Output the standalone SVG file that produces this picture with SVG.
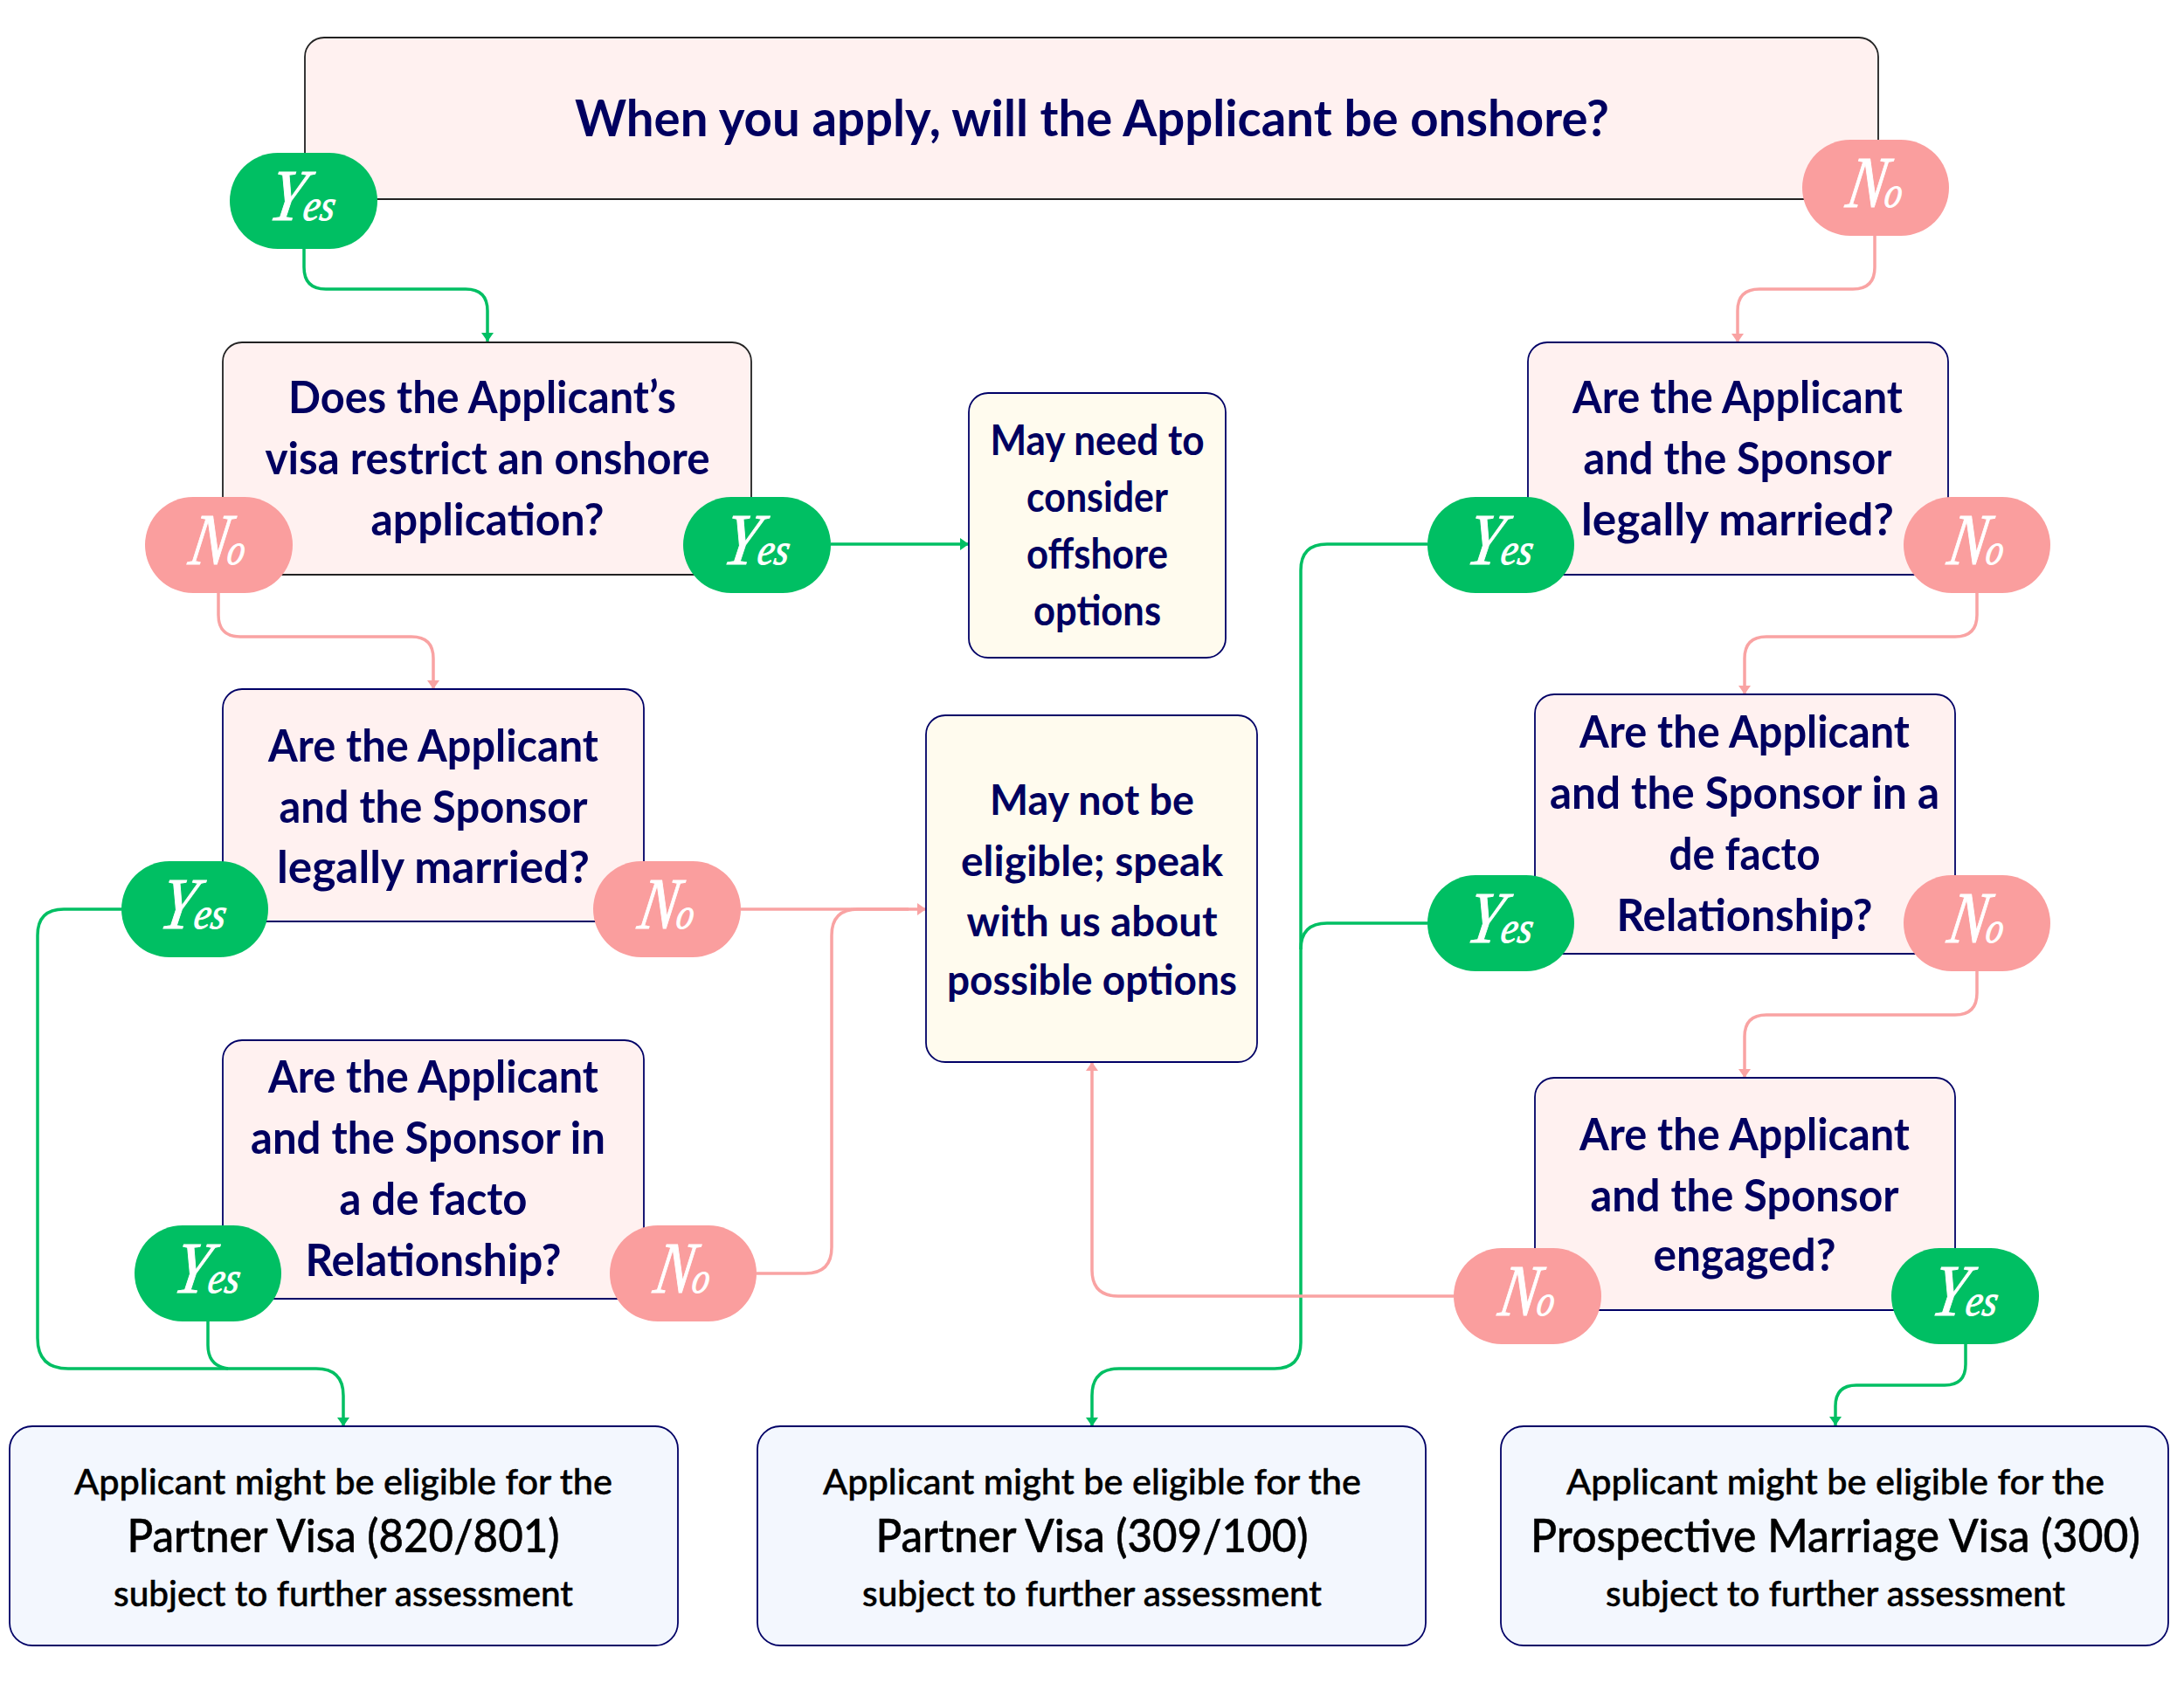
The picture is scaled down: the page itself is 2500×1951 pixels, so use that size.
<svg xmlns="http://www.w3.org/2000/svg" width="2500" height="1951" viewBox="0 0 2500 1951">
<style>
text{font-family:"Lato","Noto Sans",sans-serif;text-anchor:middle}
.q{fill:#fff1f0;stroke:#000066;stroke-width:1.8}
.k{stroke:#222}
.c{fill:#fffbee;stroke:#000066;stroke-width:1.8}
.r{fill:#f3f7fe;stroke:#000066;stroke-width:1.8}
.t{font-size:51px;font-weight:700;fill:#000060}
.t0{font-size:58px;font-weight:700;fill:#000060}
.s{font-size:48px;font-weight:700;fill:#000060}
.m{font-size:41px;font-weight:500;fill:#000;stroke:#000;stroke-width:.5}
.b{font-size:52px;font-weight:500;fill:#000;stroke:#000;stroke-width:.5}
.y{fill:#00bf63}.n{fill:#fa9e9e}
.l{font-family:"Liberation Serif",serif;font-style:italic;font-size:84px;fill:#fff;stroke:#fff;stroke-width:1}
.l tspan{font-size:50px}
.g{fill:none;stroke:#00bf63;stroke-width:3.5}
.p{fill:none;stroke:#f9a3a3;stroke-width:3.5}
</style>
<defs>
<marker id="ag" markerUnits="userSpaceOnUse" markerWidth="11" markerHeight="14" refX="10" refY="7" orient="auto"><path d="M0 0L10 7L0 14Z" fill="#00bf63"/></marker>
<marker id="ap" markerUnits="userSpaceOnUse" markerWidth="11" markerHeight="14" refX="10" refY="7" orient="auto"><path d="M0 0L10 7L0 14Z" fill="#f9a3a3"/></marker>
</defs>
<rect width="2500" height="1951" fill="#fff"/>
<g id="connectors">
<path class="g" marker-end="url(#ag)" d="M348 285V306Q348 331 373 331H533Q558 331 558 356V391"/>
<path class="p" marker-end="url(#ap)" d="M2146 270V306Q2146 331 2121 331H2014Q1989 331 1989 356V392"/>
<path class="g" marker-end="url(#ag)" d="M951 623H1109"/>
<path class="p" marker-end="url(#ap)" d="M250 679V704Q250 729 275 729H471Q496 729 496 754V789"/>
<path class="g" marker-end="url(#ag)" d="M139 1041H73Q43 1041 43 1071V1532Q43 1567 78 1567H362Q393 1567 393 1598V1633"/>
<path class="g" d="M238 1513V1540Q238 1564 261 1567"/>
<path class="p" marker-end="url(#ap)" d="M848 1041H1060"/>
<path class="p" d="M866 1458H922Q952 1458 952 1428V1071Q952 1041 982 1041H1040"/>
<path class="g" d="M1634 623H1519Q1489 623 1489 653V1537Q1489 1567 1459 1567H1281Q1250 1567 1250 1598V1633" marker-end="url(#ag)"/>
<path class="g" d="M1634 1057H1519Q1489 1057 1489 1087"/>
<path class="p" marker-end="url(#ap)" d="M2263 679V704Q2263 729 2238 729H2022Q1997 729 1997 754V795"/>
<path class="p" marker-end="url(#ap)" d="M2263 1112V1137Q2263 1162 2238 1162H2022Q1997 1162 1997 1187V1234"/>
<path class="p" marker-end="url(#ap)" d="M1664 1484H1280Q1250 1484 1250 1454V1216"/>
<path class="g" marker-end="url(#ag)" d="M2250 1539V1562Q2250 1586 2226 1586H2125Q2101 1586 2101 1610V1632"/>
</g>
<g id="q-onshore"><rect class="q k" x="349" y="43" width="1801" height="185" rx="22"/><text class="t0" x="1250" y="156" textLength="1184" lengthAdjust="spacingAndGlyphs">When you apply, will the Applicant be onshore?</text></g>
<g id="q-restrict"><rect class="q k" x="255" y="392" width="605" height="266" rx="22"/>
<text class="t" x="552" y="473" textLength="444" lengthAdjust="spacingAndGlyphs">Does the Applicant’s</text><text class="t" x="558" y="543" textLength="509" lengthAdjust="spacingAndGlyphs">visa restrict an onshore</text><text class="t" x="558" y="613" textLength="267" lengthAdjust="spacingAndGlyphs">application?</text></g>
<g id="q-married-l"><rect class="q" x="255" y="789" width="482" height="266" rx="22"/>
<text class="t" x="496" y="872" textLength="378" lengthAdjust="spacingAndGlyphs">Are the Applicant</text><text class="t" x="496" y="942" textLength="353" lengthAdjust="spacingAndGlyphs">and the Sponsor</text><text class="t" x="496" y="1011" textLength="358" lengthAdjust="spacingAndGlyphs">legally married?</text></g>
<g id="q-defacto-l"><rect class="q" x="255" y="1191" width="482" height="296" rx="22"/>
<text class="t" x="496" y="1251" textLength="378" lengthAdjust="spacingAndGlyphs">Are the Applicant</text><text class="t" x="490" y="1321" textLength="406" lengthAdjust="spacingAndGlyphs">and the Sponsor in</text><text class="t" x="496" y="1391" textLength="215" lengthAdjust="spacingAndGlyphs">a de facto</text><text class="t" x="496" y="1461" textLength="293" lengthAdjust="spacingAndGlyphs">Relationship?</text></g>
<g id="c-offshore"><rect class="c" x="1109" y="450" width="294" height="303" rx="22"/>
<text class="s" x="1256" y="521" textLength="245" lengthAdjust="spacingAndGlyphs">May need to</text><text class="s" x="1256" y="586" textLength="162" lengthAdjust="spacingAndGlyphs">consider</text><text class="s" x="1256" y="651" textLength="162" lengthAdjust="spacingAndGlyphs">offshore</text><text class="s" x="1256" y="716" textLength="146" lengthAdjust="spacingAndGlyphs">options</text></g>
<g id="c-noteligible"><rect class="c" x="1060" y="819" width="379" height="397" rx="22"/>
<text class="s" x="1250" y="933" textLength="234" lengthAdjust="spacingAndGlyphs">May not be</text><text class="s" x="1250" y="1003" textLength="300" lengthAdjust="spacingAndGlyphs">eligible; speak</text><text class="s" x="1250" y="1072" textLength="287" lengthAdjust="spacingAndGlyphs">with us about</text><text class="s" x="1250" y="1139" textLength="332" lengthAdjust="spacingAndGlyphs">possible options</text></g>
<g id="q-married-r"><rect class="q" x="1749" y="392" width="481" height="266" rx="22"/>
<text class="t" x="1989" y="473" textLength="378" lengthAdjust="spacingAndGlyphs">Are the Applicant</text><text class="t" x="1989" y="543" textLength="353" lengthAdjust="spacingAndGlyphs">and the Sponsor</text><text class="t" x="1989" y="613" textLength="358" lengthAdjust="spacingAndGlyphs">legally married?</text></g>
<g id="q-defacto-r"><rect class="q" x="1757" y="795" width="481" height="297" rx="22"/>
<text class="t" x="1997" y="856" textLength="378" lengthAdjust="spacingAndGlyphs">Are the Applicant</text><text class="t" x="1997" y="926" textLength="446" lengthAdjust="spacingAndGlyphs">and the Sponsor in a</text><text class="t" x="1997" y="996" textLength="173" lengthAdjust="spacingAndGlyphs">de facto</text><text class="t" x="1997" y="1066" textLength="293" lengthAdjust="spacingAndGlyphs">Relationship?</text></g>
<g id="q-engaged"><rect class="q" x="1757" y="1234" width="481" height="266" rx="22"/>
<text class="t" x="1997" y="1317" textLength="378" lengthAdjust="spacingAndGlyphs">Are the Applicant</text><text class="t" x="1997" y="1387" textLength="353" lengthAdjust="spacingAndGlyphs">and the Sponsor</text><text class="t" x="1997" y="1455" textLength="209" lengthAdjust="spacingAndGlyphs">engaged?</text></g>
<g id="r-820"><rect class="r" x="11" y="1633" width="765" height="251" rx="26"/>
<text class="m" x="393" y="1711" textLength="616" lengthAdjust="spacingAndGlyphs">Applicant might be eligible for the</text><text class="b" x="393" y="1777" textLength="495" lengthAdjust="spacingAndGlyphs">Partner Visa (820/801)</text><text class="m" x="393" y="1839" textLength="526" lengthAdjust="spacingAndGlyphs">subject to further assessment</text></g>
<g id="r-309"><rect class="r" x="867" y="1633" width="765" height="251" rx="26"/>
<text class="m" x="1250" y="1711" textLength="616" lengthAdjust="spacingAndGlyphs">Applicant might be eligible for the</text><text class="b" x="1250" y="1777" textLength="495" lengthAdjust="spacingAndGlyphs">Partner Visa (309/100)</text><text class="m" x="1250" y="1839" textLength="526" lengthAdjust="spacingAndGlyphs">subject to further assessment</text></g>
<g id="r-300"><rect class="r" x="1718" y="1633" width="764" height="251" rx="26"/>
<text class="m" x="2101" y="1711" textLength="616" lengthAdjust="spacingAndGlyphs">Applicant might be eligible for the</text><text class="b" x="2101" y="1777" textLength="698" lengthAdjust="spacingAndGlyphs">Prospective Marriage Visa (300)</text><text class="m" x="2101" y="1839" textLength="526" lengthAdjust="spacingAndGlyphs">subject to further assessment</text></g>
<g id="yes-1"><rect class="y" x="263" y="175" width="169" height="110" rx="55"/><text class="l" transform="translate(347 230) skewX(-10)" y="22" textLength="76" lengthAdjust="spacingAndGlyphs">Y<tspan>es</tspan></text></g>
<g id="no-1"><rect class="n" x="2063" y="160" width="168" height="110" rx="55"/><text class="l" transform="translate(2147 215) skewX(-10)" y="22" textLength="64" lengthAdjust="spacingAndGlyphs">N<tspan>o</tspan></text></g>
<g id="no-2"><rect class="n" x="166" y="569" width="169" height="110" rx="55"/><text class="l" transform="translate(250 624) skewX(-10)" y="22" textLength="64" lengthAdjust="spacingAndGlyphs">N<tspan>o</tspan></text></g>
<g id="yes-2"><rect class="y" x="782" y="569" width="169" height="110" rx="55"/><text class="l" transform="translate(867 624) skewX(-10)" y="22" textLength="76" lengthAdjust="spacingAndGlyphs">Y<tspan>es</tspan></text></g>
<g id="yes-3"><rect class="y" x="139" y="986" width="168" height="110" rx="55"/><text class="l" transform="translate(222 1041) skewX(-10)" y="22" textLength="76" lengthAdjust="spacingAndGlyphs">Y<tspan>es</tspan></text></g>
<g id="no-3"><rect class="n" x="679" y="986" width="169" height="110" rx="55"/><text class="l" transform="translate(764 1041) skewX(-10)" y="22" textLength="64" lengthAdjust="spacingAndGlyphs">N<tspan>o</tspan></text></g>
<g id="yes-4"><rect class="y" x="154" y="1403" width="168" height="110" rx="55"/><text class="l" transform="translate(238 1458) skewX(-10)" y="22" textLength="76" lengthAdjust="spacingAndGlyphs">Y<tspan>es</tspan></text></g>
<g id="no-4"><rect class="n" x="698" y="1403" width="168" height="110" rx="55"/><text class="l" transform="translate(782 1458) skewX(-10)" y="22" textLength="64" lengthAdjust="spacingAndGlyphs">N<tspan>o</tspan></text></g>
<g id="yes-5"><rect class="y" x="1634" y="569" width="168" height="110" rx="55"/><text class="l" transform="translate(1718 624) skewX(-10)" y="22" textLength="76" lengthAdjust="spacingAndGlyphs">Y<tspan>es</tspan></text></g>
<g id="no-5"><rect class="n" x="2179" y="569" width="168" height="110" rx="55"/><text class="l" transform="translate(2263 624) skewX(-10)" y="22" textLength="64" lengthAdjust="spacingAndGlyphs">N<tspan>o</tspan></text></g>
<g id="yes-6"><rect class="y" x="1634" y="1002" width="168" height="110" rx="55"/><text class="l" transform="translate(1718 1057) skewX(-10)" y="22" textLength="76" lengthAdjust="spacingAndGlyphs">Y<tspan>es</tspan></text></g>
<g id="no-6"><rect class="n" x="2179" y="1002" width="168" height="110" rx="55"/><text class="l" transform="translate(2263 1057) skewX(-10)" y="22" textLength="64" lengthAdjust="spacingAndGlyphs">N<tspan>o</tspan></text></g>
<g id="no-7"><rect class="n" x="1664" y="1429" width="169" height="110" rx="55"/><text class="l" transform="translate(1749 1484) skewX(-10)" y="22" textLength="64" lengthAdjust="spacingAndGlyphs">N<tspan>o</tspan></text></g>
<g id="yes-7"><rect class="y" x="2165" y="1429" width="169" height="110" rx="55"/><text class="l" transform="translate(2250 1484) skewX(-10)" y="22" textLength="76" lengthAdjust="spacingAndGlyphs">Y<tspan>es</tspan></text></g>
</svg>
